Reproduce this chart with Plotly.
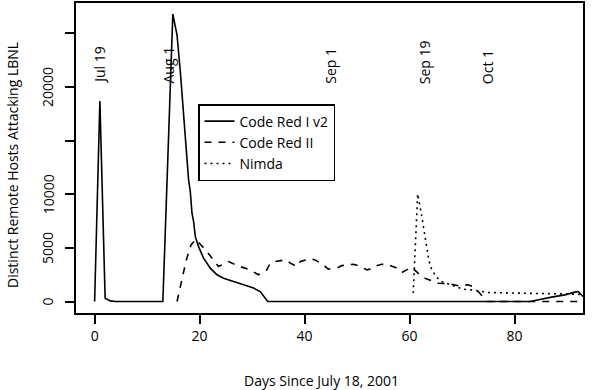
import plotly.graph_objects as go

# ---- data ----
cr1_days = [0, 1, 2, 3, 4, 13, 14.9, 15.7, 16.33, 16.96, 17.6, 17.9, 18.23, 18.55, 18.86,
            19.18, 19.8, 20.76, 22.04, 23.31, 24.57, 26.47, 28.37, 30.28, 31.55, 32.18,
            32.83, 33, 83, 87.06, 89.59, 91.5, 92.12, 93.07, 93.6]
cr1_hosts = [0, 18700, 300, 60, 0, 0, 26800, 24840, 21420, 17390, 13660, 11340, 10250, 8230, 7450,
             6050, 5120, 4040, 3110, 2490, 2180, 1860, 1560, 1250, 930, 470,
             90, 0, 0, 410, 620, 875, 930, 470, 300]

cr2_days = [15.7, 16.65, 17.47, 18.36, 19.3, 21.4, 23.6, 25.5, 27.7, 29.6, 31.2, 32.8, 33.45,
            34.4, 36.3, 37.3, 38.5, 39.2, 41.1, 42.0, 43.6, 44.5, 46.5, 47.1, 49.3, 50.3, 51.9,
            52.5, 53.1, 54.7, 56.0, 57.6, 58.5, 60.4, 62.3, 63.3, 65.5, 67.7, 69.3, 71.2, 72.1,
            73.4, 74.2, 74.75, 93.6]
cr2_hosts = [0, 2020, 3880, 5280, 5800, 4660, 3260, 3730, 3260, 2950, 2490, 2950, 3580,
             3730, 3880, 3580, 3260, 3730, 3980, 3880, 3420, 3020, 3200, 3350, 3480, 3330, 2950,
             3020, 3260, 3480, 3420, 3110, 2700, 3200, 2330, 2090, 1710, 1650, 1460, 1560, 1400,
             780, 220, 0, 0]

nimda_days = [60.7, 61.55, 62.2, 62.45, 62.95, 63.4, 63.7, 64.2, 65.0, 66.1, 70.2, 71.8, 75.0,
              81, 86, 90, 93.6]
nimda_hosts = [780, 10030, 8330, 7610, 6050, 4510, 3790, 3020, 2330, 1860, 1150, 1090, 840,
               780, 760, 700, 650]

series_names = ["Code Red I v2", "Code Red II", "Nimda"]

date_days = [1, 14, 45, 63, 75]
date_labels = ["Jul 19", "Aug 1", "Sep 1", "Sep 19", "Oct 1"]

x_ticks = [0, 20, 40, 60, 80]
y_ticks = [0, 5000, 10000, 15000, 20000, 25000]
y_tick_text = ["0", "5000", "10000", "", "20000", ""]

x_title = "Days Since July 18, 2001"
y_title = "Distinct Remote Hosts Attacking LBNL"

FONT = "Open Sans"
fs = 14

fig = go.Figure()
fig.add_trace(go.Scatter(x=cr1_days, y=cr1_hosts, mode="lines", name=series_names[0],
                         legendgroup="a",
                         line=dict(color="black", width=1.6)))
fig.add_trace(go.Scatter(x=cr2_days, y=cr2_hosts, mode="lines", name=series_names[1],
                         legendgroup="b",
                         line=dict(color="black", width=1.6, dash="7px,7px")))
fig.add_trace(go.Scatter(x=nimda_days, y=nimda_hosts, mode="lines", name=series_names[2],
                         legendgroup="c",
                         line=dict(color="black", width=1.6, dash="2px,4px")))

annotations = []
for d, lab in zip(date_days, date_labels):
    annotations.append(dict(x=d, y=20100, xref="x", yref="y", text=lab, textangle=-90,
                            showarrow=False, xanchor="center", yanchor="bottom",
                            font=dict(family=FONT, size=fs, color="black")))

# y tick labels, parallel to the axis (as in the reference)
for v, t in zip(y_ticks, y_tick_text):
    if t:
        annotations.append(dict(x=(48 - 76) / 507, y=v, xref="paper", yref="y", text=t,
                                textangle=-90, showarrow=False, xanchor="center",
                                yanchor="middle",
                                font=dict(family=FONT, size=fs, color="black")))

annotations.append(dict(x=(321 - 76) / 507, y=(313 - 381) / 310, xref="paper", yref="paper",
                        text=x_title, showarrow=False, xanchor="center", yanchor="middle",
                        font=dict(family=FONT, size=fs, color="black")))
annotations.append(dict(x=(12 - 76) / 507, y=(313 - 165) / 310, xref="paper", yref="paper",
                        text=y_title, showarrow=False, textangle=-90,
                        xanchor="center", yanchor="middle",
                        font=dict(family=FONT, size=fs, color="black")))

fig.update_layout(
    width=600, height=390,
    margin=dict(l=76, r=17, t=3, b=77),
    paper_bgcolor="white", plot_bgcolor="white",
    font=dict(family=FONT, size=fs, color="black"),
    showlegend=True,
    legend=dict(x=(198 - 76) / 507, y=(313 - 104) / 310, xanchor="left", yanchor="top",
                bordercolor="black", borderwidth=1.5, bgcolor="white",
                tracegroupgap=0,
                font=dict(family=FONT, size=fs, color="black")),
    annotations=annotations,
)
fig.update_xaxes(range=[-3.55, 93.05], tickvals=x_ticks, ticks="outside", ticklen=9,
                 tickwidth=1.5, tickcolor="black", showline=True, linecolor="black",
                 linewidth=1.5, mirror=True, showgrid=False, zeroline=False,
                 automargin=False,
                 tickfont=dict(family=FONT, size=fs, color="black"))
fig.update_yaxes(range=[-1070, 27830], tickvals=y_ticks, showticklabels=False,
                 ticks="outside", ticklen=9,
                 tickwidth=1.5, tickcolor="black", showline=True, linecolor="black",
                 linewidth=1.5, mirror=True, showgrid=False, zeroline=False,
                 automargin=False)

fig.write_html("out.html", config={"displayModeBar": False},
               post_script="document.body.style.margin='0';document.body.style.overflow='hidden';")
